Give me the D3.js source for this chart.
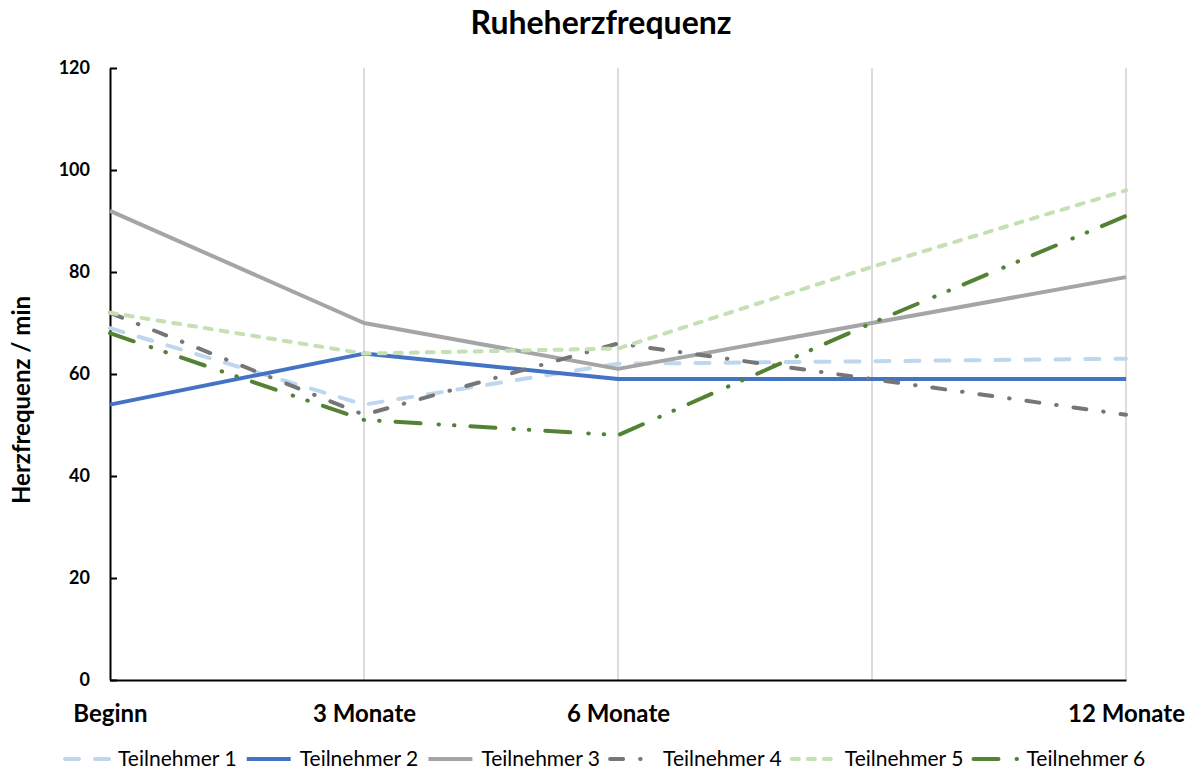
<!DOCTYPE html>
<html>
<head>
<meta charset="utf-8">
<script src="https://cdn.jsdelivr.net/npm/d3@7"></script>
<style>
  body { margin: 0; background: #fff; }
  text { font-family: Lato, "Open Sans", sans-serif; fill: #000; }
</style>
</head>
<body>
<div id="chart"></div>
<script>
// Data
// =================================
var categories = ["Beginn", "3 Monate", "6 Monate", "", "12 Monate"];
var yTicks = [0, 20, 40, 60, 80, 100, 120];

var teilnehmer1 = [69, 54, 62, 62.5, 63];
var teilnehmer2 = [54, 64, 59, 59, 59];
var teilnehmer3 = [92, 70, 61, 70, 79];
var teilnehmer4 = [72, 52, 66, 59, 52];
var teilnehmer5 = [72, 64, 65, 81, 96];
var teilnehmer6 = [68, 51, 48, 70, 91];

var seriesNames = ["Teilnehmer 1", "Teilnehmer 2", "Teilnehmer 3",
                   "Teilnehmer 4", "Teilnehmer 5", "Teilnehmer 6"];
var seriesValues = [teilnehmer1, teilnehmer2, teilnehmer3,
                    teilnehmer4, teilnehmer5, teilnehmer6];

// line styles per series
var styles = [
  {color: "#bdd7ee", dash: "14,16", cap: "round"},
  {color: "#4472c4", dash: null,    cap: "butt"},
  {color: "#a5a5a5", dash: null,    cap: "butt"},
  {color: "#767676", dash: "13,17,0.5,17", cap: "round"},
  {color: "#c5e0b4", dash: "7,9",   cap: "round"},
  {color: "#548235", dash: "25,18,0.5,15,0.5,16", cap: "round"}
];

// Chart setup
// =================================
var svgWidth = 1195, svgHeight = 774;
var margin = {top: 68, right: 69, bottom: 94, left: 110};
var width = svgWidth - margin.left - margin.right;
var height = svgHeight - margin.top - margin.bottom;

var svg = d3.select("#chart").append("svg")
  .attr("width", svgWidth)
  .attr("height", svgHeight);

var g = svg.append("g")
  .attr("transform", `translate(${margin.left}, ${margin.top})`);

var x = d3.scalePoint().domain(categories).range([0, width]);
var y = d3.scaleLinear().domain([0, 120]).range([height, 0]);

// title
svg.append("text")
  .attr("x", 601).attr("y", 34)
  .attr("text-anchor", "middle")
  .style("font-size", "32px").style("font-weight", "bold")
  .text("Ruheherzfrequenz");

// vertical gridlines
g.append("g").selectAll("line")
  .data(categories.slice(1))
  .enter().append("line")
  .attr("x1", d => x(d)).attr("x2", d => x(d))
  .attr("y1", 0).attr("y2", height)
  .attr("stroke", "#d0d0d0").attr("stroke-width", 1.5);

// y axis
var yAxis = g.append("g")
  .call(d3.axisLeft(y).tickValues(yTicks).tickSizeInner(-7).tickSizeOuter(0).tickPadding(20));
yAxis.select(".domain").attr("stroke", "#000").attr("stroke-width", 2);
yAxis.selectAll(".tick line").attr("stroke", "#000").attr("stroke-width", 2);
yAxis.selectAll("text")
  .style("font-size", "18px").style("font-weight", "bold");

// x axis
var xAxis = g.append("g")
  .attr("transform", `translate(0, ${height})`)
  .call(d3.axisBottom(x).tickSize(0).tickPadding(25));
xAxis.select(".domain").attr("stroke", "#000").attr("stroke-width", 2);
xAxis.selectAll("text")
  .style("font-size", "24px").style("font-weight", "bold");

// y axis label
svg.append("text")
  .attr("transform", "translate(30, 400) rotate(-90)")
  .attr("text-anchor", "middle")
  .style("font-size", "24px").style("font-weight", "bold")
  .text("Herzfrequenz / min");

// lines
var line = d3.line()
  .x((d, i) => x(categories[i]))
  .y(d => y(d));

g.append("g").selectAll("path")
  .data(seriesValues)
  .enter().append("path")
  .attr("d", d => line(d))
  .attr("fill", "none")
  .attr("stroke", (d, i) => styles[i].color)
  .attr("stroke-width", 4)
  .attr("stroke-linecap", (d, i) => styles[i].cap)
  .attr("stroke-linejoin", "round")
  .attr("stroke-dasharray", (d, i) => styles[i].dash);

// legend
var legend = svg.append("g").selectAll("g")
  .data(seriesNames)
  .enter().append("g")
  .attr("transform", (d, i) => `translate(${63 + i * 181.7}, 759)`);

legend.append("line")
  .attr("x1", 2).attr("x2", 46)
  .attr("stroke", (d, i) => styles[i].color)
  .attr("stroke-width", 4)
  .attr("stroke-linecap", (d, i) => styles[i].cap)
  .attr("stroke-dasharray", (d, i) => styles[i].dash);

legend.append("text")
  .attr("x", 55).attr("dy", "0.35em")
  .style("font-size", "21px")
  .text(d => d);
</script>
</body>
</html>
